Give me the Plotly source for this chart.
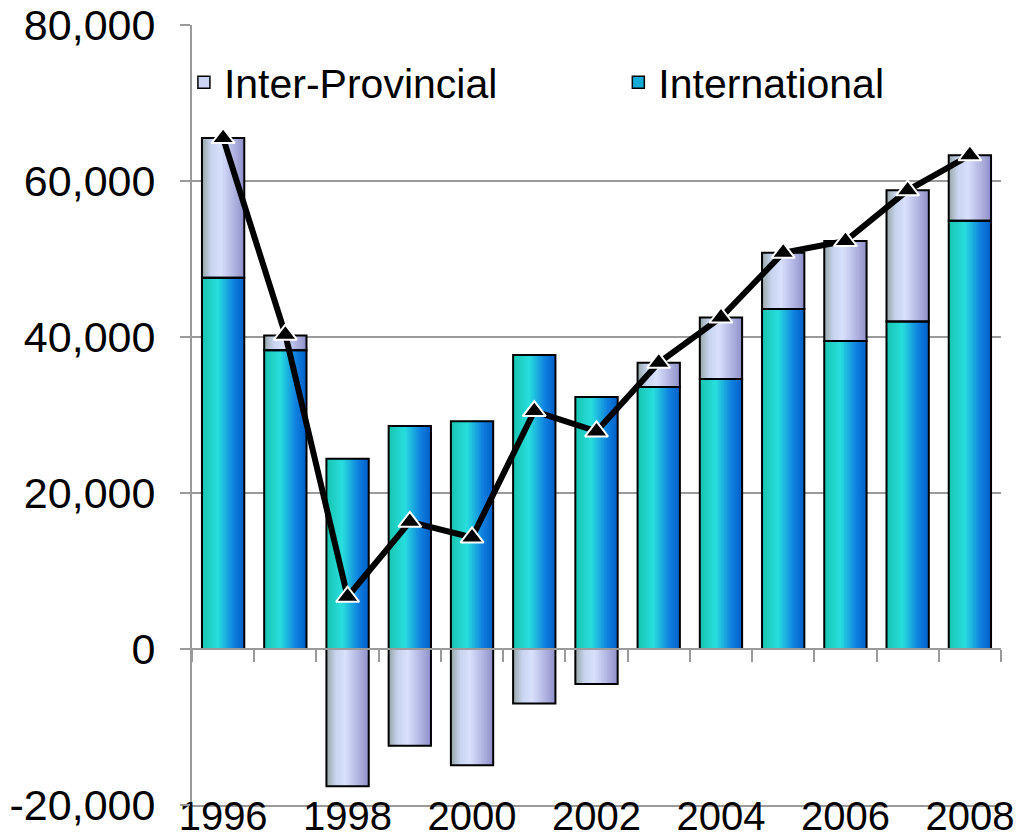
import numpy as np
import plotly.graph_objects as go

years = [1996, 1997, 1998, 1999, 2000, 2001, 2002, 2003, 2004, 2005, 2006, 2007, 2008]
international = [47600, 38300, 24400, 28600, 29200, 37700, 32300, 33600, 34600, 43600, 39500, 42000, 54900]
inter_provincial = [17900, 1900, -17600, -12400, -14900, -7000, -4500, 3100, 7900, 7200, 12800, 16800, 8400]
net_total = [65500, 40300, 6700, 16300, 14300, 30500, 27900, 36700, 42500, 50800, 52300, 58800, 63300]
year_ticks = [1996, 1998, 2000, 2002, 2004, 2006, 2008]
y_tick_vals = [-20000, 0, 20000, 40000, 60000, 80000]
y_tick_text = ["-20,000", "0", "20,000", "40,000", "60,000", "80,000"]

FONT = "Liberation Sans, Arial, sans-serif"
W = 0.68
N = 28
GRID = "#9a9a9a"

intl_stops = [(0.0, (24, 196, 176)), (0.38, (40, 222, 222)), (0.75, (16, 128, 224)), (1.0, (0, 96, 200))]
inter_stops = [(0.0, (150, 166, 166)), (0.22, (200, 212, 240)), (0.45, (216, 224, 252)), (0.85, (164, 166, 216)), (1.0, (144, 144, 200))]


def interp(stops, t):
    for (t0, c0), (t1, c1) in zip(stops[:-1], stops[1:]):
        if t0 <= t <= t1:
            f = (t - t0) / (t1 - t0) if t1 > t0 else 0
            return "rgb(%d,%d,%d)" % tuple(round(a + (b - a) * f) for a, b in zip(c0, c1))
    return "rgb(%d,%d,%d)" % stops[-1][1]


intl = np.array(international, dtype=float)
inter = np.array(inter_provincial, dtype=float)
inter_base = np.where(inter >= 0, intl, 0.0)

fig = go.Figure()

for vals, base, stops in [(intl, np.zeros_like(intl), intl_stops), (inter, inter_base, inter_stops)]:
    for i in range(N):
        t = (i + 0.5) / N
        fig.add_trace(go.Bar(
            x=years, y=vals, base=base,
            width=W / N * 1.6 if i < N - 1 else W / N, offset=-W / 2 + i * W / N,
            marker=dict(color=interp(stops, t), line=dict(width=0)),
            showlegend=False, hoverinfo="skip",
        ))

for vals, base in [(intl, np.zeros_like(intl)), (inter, inter_base)]:
    fig.add_trace(go.Bar(
        x=years, y=vals, base=base, width=W, offset=-W / 2,
        marker=dict(color="rgba(0,0,0,0)", line=dict(color="black", width=2)),
        showlegend=False,
    ))

# legend entries
fig.add_trace(go.Bar(x=[None], y=[None], name="Inter-Provincial", legend="legend",
                     marker=dict(color="rgb(204,212,244)", line=dict(color="black", width=1.5))))
fig.add_trace(go.Bar(x=[None], y=[None], name="International", legend="legend2",
                     marker=dict(color="rgb(20,170,214)", line=dict(color="black", width=1.5))))

fig.add_trace(go.Scatter(
    x=years, y=net_total, mode="lines+markers",
    line=dict(color="black", width=6),
    marker=dict(symbol="triangle-up", size=20, color="black", line=dict(color="white", width=2)),
    showlegend=False,
))

# helper trace for zero-line axis
fig.add_trace(go.Scatter(x=years, y=[None] * len(years), xaxis="x2", showlegend=False, hoverinfo="skip"))

leg_common = dict(orientation="h", xanchor="left", y=0.926, yanchor="middle",
                  bgcolor="rgba(0,0,0,0)", font=dict(size=41))

fig.update_layout(
    width=1016, height=839,
    margin=dict(l=192, r=15, t=25, b=34),
    barmode="overlay",
    plot_bgcolor="white", paper_bgcolor="white",
    font=dict(family=FONT, size=40, color="black"),
    xaxis=dict(
        range=[1995.5, 2008.5], tickmode="array", tickvals=year_ticks,
        ticks="", showgrid=False, zeroline=False, automargin=False,
        showline=True, linecolor=GRID, linewidth=2, ticklabeloverflow="allow",
        tickfont=dict(size=40), ticklabelstandoff=-25,
    ),
    xaxis2=dict(
        overlaying="x", matches="x", anchor="free", position=0.2,
        tickmode="linear", tick0=1995.5, dtick=1, automargin=False,
        ticks="outside", ticklen=12, tickwidth=2, tickcolor=GRID,
        showticklabels=False, showgrid=False, zeroline=False,
        showline=True, linecolor=GRID, linewidth=2,
    ),
    yaxis=dict(
        range=[-20000, 80000], tickmode="array", tickvals=y_tick_vals, ticktext=y_tick_text,
        showgrid=True, gridcolor=GRID, gridwidth=2, automargin=False,
        zeroline=False, showline=True, linecolor=GRID, linewidth=2, ticklabeloverflow="allow",
        ticks="outside", ticklen=10, tickwidth=2, tickcolor=GRID,
        tickfont=dict(size=43), ticklabelstandoff=16,
    ),
    legend=dict(x=-0.01, **leg_common),
    legend2=dict(x=0.527, **leg_common),
    showlegend=True,
)

fig.write_html("out.html", config={"displayModeBar": False},
               post_script="document.body.style.margin='0';document.body.style.overflow='hidden';")
